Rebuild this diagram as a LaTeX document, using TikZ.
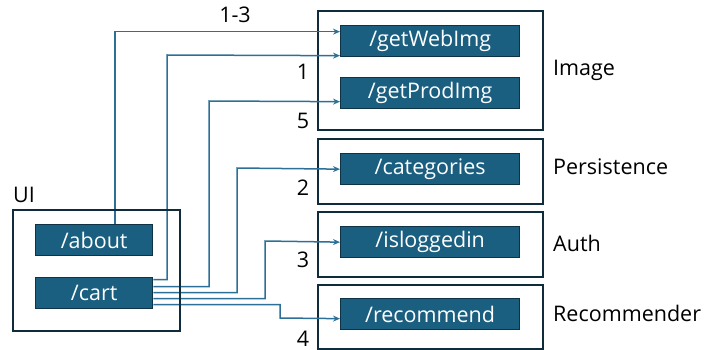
\documentclass[tikz,border=0pt]{standalone}
\usepackage{fontspec}
\setmainfont{Open Sans}
\usetikzlibrary{arrows.meta}
\definecolor{boxfill}{HTML}{1A5E80}
\definecolor{boxline}{HTML}{0E3347}
\definecolor{grpline}{HTML}{0F2C3C}
\definecolor{connc}{HTML}{2C7098}
\begin{document}
\begin{tikzpicture}[x=1pt,y=-1pt,
  grp/.style={draw=grpline,line width=1.6pt,anchor=north west,inner sep=0pt},
  ep/.style={draw=boxline,fill=boxfill,line width=1.3pt,text=white,anchor=north west,
    minimum width=179pt,minimum height=31pt,inner sep=0pt,font=\fontsize{21.5}{24}\selectfont},
  uiep/.style={ep,minimum width=117pt},
  lbl/.style={font=\fontsize{21.5}{24}\selectfont,text=black,inner sep=0pt},
  conn/.style={draw=connc,line width=1.5pt,-{Stealth[length=7pt,width=6pt]}}]
\useasboundingbox (0,0) rectangle (706,350);
% group boxes
\node[grp,minimum width=225pt,minimum height=119pt] (gimg) at (317,10) {};
\node[grp,minimum width=225pt,minimum height=65pt] (gper) at (317,138) {};
\node[grp,minimum width=225pt,minimum height=65pt] (gauth) at (317,211) {};
\node[grp,minimum width=225pt,minimum height=64pt] (grec) at (317,284) {};
% endpoint boxes
\node[ep] (web) at (340,25) {/getWebImg};
\node[ep] (prod) at (340,77) {/getProdImg};
\node[ep] (cat) at (340,153) {/categories};
\node[ep] (isl) at (340,226) {/isloggedin};
\node[ep] (rec) at (340,298) {/recommend};
% UI
\node[uiep] (about) at (35,224) {/about};
\node[uiep] (cart) at (35,277) {/cart};
% connectors
\draw[conn] (about.north -| 115,0) |- ([yshift=9.5pt]web.west);
\draw[conn] ([yshift=13.5pt]cart.east) -| (167,55) -- ([yshift=-14.5pt]web.west);
\draw[conn] ([yshift=6.5pt]cart.east) -| (209,101) -- ([yshift=-8.5pt]prod.west);
\draw[conn] ([yshift=0.5pt]cart.east) -| (237,168) -- (cat.west);
\draw[conn] ([yshift=-5.5pt]cart.east) -| (265,241) -- (isl.west);
\draw[conn] ([yshift=-11.5pt]cart.east) -| (280,318) -- ([yshift=-4.5pt]rec.west);
% UI box on top
\node[grp,minimum width=167pt,minimum height=121pt] (gui) at (12,209) {};
% labels
\node[lbl,anchor=west] (uil) at (13,195) {UI};
\node[lbl,anchor=west] (limg) at (553,70) {Image};
\node[lbl,anchor=west] (lper) at (553,167) {Persistence};
\node[lbl,anchor=west] (lauth) at (553,243) {Auth};
\node[lbl,anchor=west] (lrec) at (553,313) {Recommender};
\node[lbl] (n13) at (235,15) {1-3};
\node[lbl] (n1) at (303,72) {1};
\node[lbl] (n5) at (303,121) {5};
\node[lbl] (n2) at (303,188) {2};
\node[lbl] (n3) at (303,260) {3};
\node[lbl,anchor=base,text depth=0pt] (n4) at (303,346) {4};
\end{tikzpicture}
\end{document}
